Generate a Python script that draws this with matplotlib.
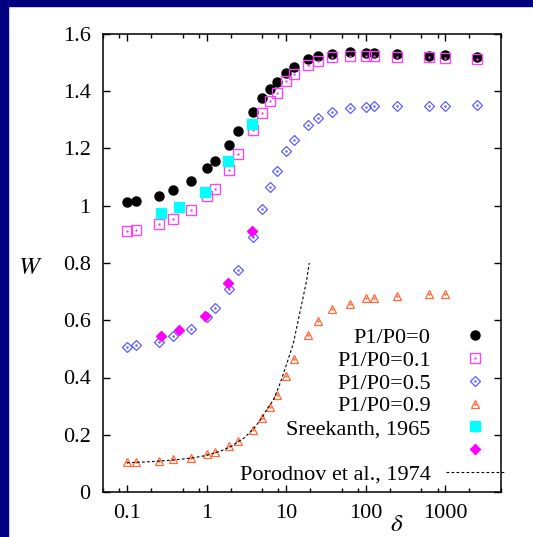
import numpy as np
import matplotlib
matplotlib.use('Agg')
import matplotlib.pyplot as plt
from matplotlib.patches import Rectangle
from matplotlib.legend_handler import HandlerTuple
from matplotlib.ticker import FixedLocator, NullFormatter

# data
delta = [0.1, 0.13, 0.25, 0.38, 0.63, 1.0, 1.26, 1.9, 2.5, 3.8, 5.0, 6.3, 7.6, 10,
         12.6, 19, 25, 38, 63, 100, 126, 250, 630, 1000, 2500]
w_00 = [1.014, 1.017, 1.033, 1.054, 1.085, 1.131, 1.155, 1.213, 1.26, 1.327, 1.375,
        1.408, 1.432, 1.463, 1.484, 1.512, 1.523, 1.529, 1.536, 1.535, 1.532, 1.529,
        1.524, 1.528, 1.521]
w_01 = [0.911, 0.914, 0.936, 0.954, 0.986, 1.033, 1.06, 1.126, 1.181, 1.264, 1.323,
        1.366, 1.394, 1.436, 1.46, 1.492, 1.507, 1.519, 1.523, 1.523, 1.524, 1.519,
        1.519, 1.515, 1.512]
w_05 = [0.508, 0.512, 0.525, 0.544, 0.569, 0.612, 0.642, 0.710, 0.774, 0.890, 0.988,
        1.067, 1.122, 1.190, 1.230, 1.282, 1.305, 1.326, 1.340, 1.345, 1.347, 1.347,
        1.348, 1.347, 1.351]
delta_09 = delta[:-1]
w_09 = [0.104, 0.104, 0.109, 0.115, 0.120, 0.132, 0.139, 0.161, 0.178, 0.218, 0.260,
        0.296, 0.339, 0.406, 0.464, 0.550, 0.596, 0.638, 0.658, 0.677, 0.677, 0.684,
        0.692, 0.692]

sree_delta = [0.27, 0.45, 0.95, 1.88, 3.76]
sree_01 = [0.976, 0.996, 1.049, 1.155, 1.285]
sree_05 = [0.544, 0.566, 0.616, 0.73, 0.913]

poro_delta = [0.1, 0.2, 0.4, 0.7, 1, 1.5, 2, 3, 4, 5, 5.8, 6.9, 8.4, 10.2, 12.3,
              14.2, 16.4, 18.1, 19.5]
poro_w = [0.102, 0.106, 0.112, 0.12, 0.128, 0.143, 0.158, 0.19, 0.225, 0.26, 0.292,
          0.321, 0.38, 0.449, 0.519, 0.601, 0.682, 0.741, 0.80]

labels = ['P1/P0=0', 'P1/P0=0.1', 'P1/P0=0.5', 'P1/P0=0.9', 'Sreekanth, 1965', ' ',
          'Porodnov et al., 1974']

fs = 16  # fontsize
plt.rcParams['font.family'] = 'Liberation Serif'
plt.rcParams['font.size'] = fs
plt.rcParams['mathtext.fontset'] = 'stix'

fig = plt.figure(figsize=(5.33, 5.37), dpi=100)
fig.patch.set_facecolor('white')
# navy frame strips on left and top
fig.patches.append(Rectangle((0, 0), 8 / 533, 1, transform=fig.transFigure,
                             color='#000080', zorder=0))
fig.patches.append(Rectangle((0, 1 - 6 / 537), 1, 6 / 537, transform=fig.transFigure,
                             color='#000080', zorder=0))

ax = fig.add_axes([103 / 533, 1 - 492 / 537, 398 / 533, 458 / 537])

c_sq = '#f348f3'
c_di = '#5c5cff'
c_tr = '#ff6a3a'

h0, = ax.plot(delta, w_00, 'o', color='black', ms=6.5, mec='black', ls='none')
h1, = ax.plot(delta, w_01, 's', mfc='none', mec=c_sq, ms=6.8, mew=1.0, ls='none')
d1, = ax.plot(delta, w_01, '.', color=c_sq, ms=1.5, ls='none')
h2, = ax.plot(delta, w_05, 'D', mfc='none', mec=c_di, ms=4.8, mew=0.9, ls='none')
d2, = ax.plot(delta, w_05, '.', color=c_di, ms=1.5, ls='none')
h3, = ax.plot(delta_09, w_09, '^', mfc='none', mec=c_tr, ms=6.3, mew=0.9, ls='none')
d3, = ax.plot(delta_09, w_09, '.', color=c_tr, ms=1.5, ls='none')
h4, = ax.plot(sree_delta, sree_01, 's', color='#00ffff', ms=6.8, ls='none')
h5, = ax.plot(sree_delta, sree_05, 'D', color='#ff00ff', ms=5.2, ls='none')
h6, = ax.plot(poro_delta, poro_w, color='black', lw=0.8, ls=(0, (2.5, 2)))

ax.set_xscale('log')
ax.set_xlim(0.05, 5000)
ax.set_ylim(0, 1.6)
ax.set_yticks(np.arange(0, 1.61, 0.2))
ax.set_yticklabels(['0', '0.2', '0.4', '0.6', '0.8', '1', '1.2', '1.4', '1.6'])
ax.set_xticks([0.1, 1, 10, 100, 1000])
ax.set_xticklabels(['0.1', '1', '10', '100', '1000'])
minors = [m * 10.0 ** e for e in range(-2, 4) for m in (2, 5, 8)]
ax.xaxis.set_minor_locator(FixedLocator(minors))
ax.xaxis.set_minor_formatter(NullFormatter())
ax.tick_params(which='both', direction='in', top=True, right=True, width=1.0)
ax.tick_params(which='major', length=5, pad=9)
ax.tick_params(which='minor', length=3)
for s in ax.spines.values():
    s.set_linewidth(1.1)

ax.set_ylabel('$W$', rotation=0, fontsize=18, va='center', ha='center')
ax.yaxis.set_label_coords(-0.183, 0.489)
ax.set_xlabel(r'$\delta$', fontsize=18, va='top', ha='center')
ax.xaxis.set_label_coords(0.739, -0.047)

leg = ax.legend([h0, (h1, d1), (h2, d2), (h3, d3), h4, h5, h6], labels,
                handler_map={tuple: HandlerTuple(ndivide=1)},
                markerfirst=False, frameon=False, loc='lower right',
                bbox_to_anchor=(1.0075, 0.016), borderpad=0, borderaxespad=0,
                handlelength=2.6, handletextpad=0.7, labelspacing=0.1,
                fontsize=fs)

fig.savefig('out.png', dpi=100, facecolor='white')
